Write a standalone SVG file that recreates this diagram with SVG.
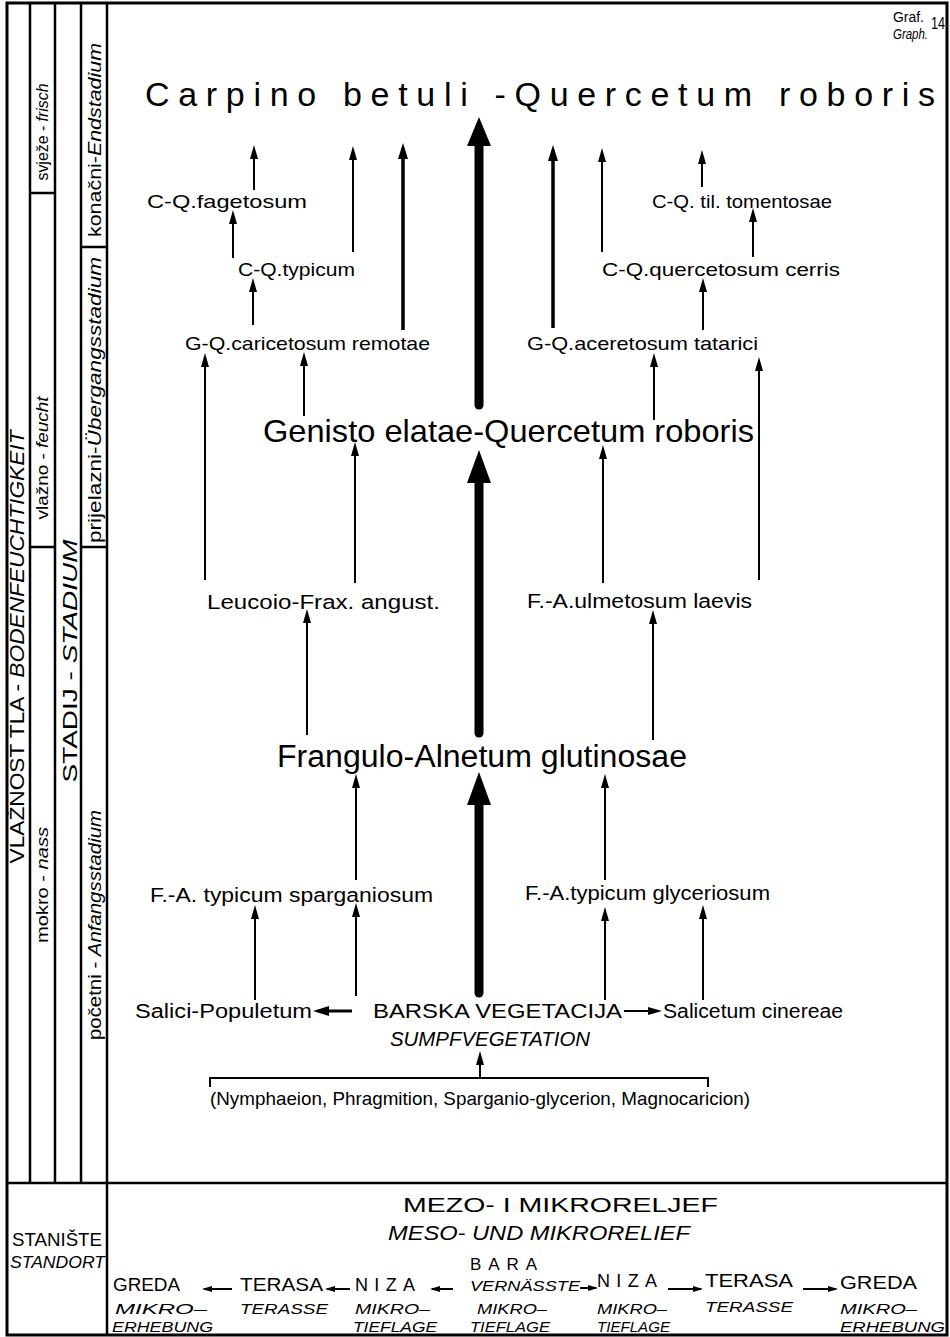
<svg xmlns="http://www.w3.org/2000/svg" width="950" height="1337" viewBox="0 0 950 1337">
<style>
text{font-family:"Liberation Sans","DejaVu Sans",sans-serif;fill:#000}
.i{font-style:italic}
.n{font-size:19px}
.big{font-size:32px}
.side{font-size:20px}
.bt{font-size:18px}
.bi{font-size:15px;font-style:italic}
.frame{fill:none;stroke:#000;stroke-width:3}
.rule{stroke:#000;stroke-width:2.5;fill:none}
.c{stroke:#000;stroke-width:2;fill:none}
.cm{stroke:#000;stroke-width:3.5;fill:none}
.ct{stroke:#000;stroke-width:9;fill:none;stroke-linecap:round}
</style>
<defs>
<marker id="ah" markerUnits="userSpaceOnUse" viewBox="0 0 14 8" refX="10" refY="4" markerWidth="14" markerHeight="8" orient="auto"><path d="M0,0 L14,4 L0,8 z"/></marker>
<marker id="ahm" markerUnits="userSpaceOnUse" viewBox="0 0 16 10" refX="11" refY="5" markerWidth="16" markerHeight="10" orient="auto"><path d="M0,0 L16,5 L0,10 z"/></marker>
<marker id="ahs" markerUnits="userSpaceOnUse" viewBox="0 0 10 6" refX="8" refY="3" markerWidth="10" markerHeight="6" orient="auto"><path d="M0,0 L10,3 L0,6 z"/></marker>
</defs>
<rect width="950" height="1337" fill="#fff"/>

<g id="frame">
<rect class="frame" x="7" y="3" width="940" height="1332"/>
<line class="rule" x1="7" y1="1183" x2="947" y2="1183"/>
<line class="rule" x1="30" y1="3" x2="30" y2="1183"/>
<line class="rule" x1="55" y1="3" x2="55" y2="1183"/>
<line class="rule" x1="81" y1="3" x2="81" y2="1183"/>
<line class="rule" x1="107" y1="3" x2="107" y2="1335"/>
<line class="rule" x1="30" y1="193" x2="55" y2="193"/>
<line class="rule" x1="30" y1="547" x2="55" y2="547"/>
<line class="rule" x1="81" y1="247" x2="107" y2="247"/>
<line class="rule" x1="81" y1="547" x2="107" y2="547"/>
</g>

<g id="side-labels">
<text class="side" transform="translate(24,647) rotate(-90)" text-anchor="middle" textLength="433" lengthAdjust="spacingAndGlyphs">VLAŽNOST TLA - <tspan class="i">BODENFEUCHTIGKEIT</tspan></text>
<text style="font-size:17px" transform="translate(48,132) rotate(-90)" text-anchor="middle" textLength="97" lengthAdjust="spacingAndGlyphs">svježe - <tspan class="i">frisch</tspan></text>
<text style="font-size:17px" transform="translate(48,458) rotate(-90)" text-anchor="middle" textLength="123" lengthAdjust="spacingAndGlyphs">vlažno - <tspan class="i">feucht</tspan></text>
<text style="font-size:17px" transform="translate(48,885) rotate(-90)" text-anchor="middle" textLength="116" lengthAdjust="spacingAndGlyphs">mokro - <tspan class="i">nass</tspan></text>
<text style="font-size:21px" transform="translate(77,661) rotate(-90)" text-anchor="middle" textLength="243" lengthAdjust="spacingAndGlyphs">STADIJ - <tspan class="i">STADIUM</tspan></text>
<text style="font-size:19px" transform="translate(101,140) rotate(-90)" text-anchor="middle" textLength="194" lengthAdjust="spacingAndGlyphs">konačni-<tspan class="i">Endstadium</tspan></text>
<text style="font-size:19px" transform="translate(101,400) rotate(-90)" text-anchor="middle" textLength="286" lengthAdjust="spacingAndGlyphs">prijelazni-<tspan class="i">Übergangsstadium</tspan></text>
<text style="font-size:19px" transform="translate(101,925) rotate(-90)" text-anchor="middle" textLength="230" lengthAdjust="spacingAndGlyphs">početni - <tspan class="i">Anfangsstadium</tspan></text>
</g>

<g id="graph-no">
<text x="893" y="22" style="font-size:14px" textLength="31" lengthAdjust="spacingAndGlyphs">Graf.</text>
<text x="893" y="39" class="i" style="font-size:14px" textLength="35" lengthAdjust="spacingAndGlyphs">Graph.</text>
<text x="931" y="29" style="font-size:16px" textLength="14" lengthAdjust="spacingAndGlyphs">14</text>
</g>

<g id="connectors">
<path class="ct" d="M479,405 V140"/><polygon points="479,117 467,146 491,146"/>
<path class="ct" d="M479,733 V475"/><polygon points="479,450 467,483 491,483"/>
<path class="ct" d="M479,993 V795"/><polygon points="479,772 467,805 491,805"/>
<line class="c" x1="254" y1="190" x2="254" y2="149" marker-end="url(#ah)"/>
<line class="c" x1="233" y1="258" x2="233" y2="214" marker-end="url(#ah)"/>
<line class="c" x1="353" y1="252" x2="353" y2="150" marker-end="url(#ah)"/>
<line class="cm" x1="403" y1="330" x2="403" y2="148" marker-end="url(#ahm)"/>
<line class="c" x1="253" y1="325" x2="253" y2="282" marker-end="url(#ah)"/>
<line class="cm" x1="553" y1="328" x2="553" y2="150" marker-end="url(#ahm)"/>
<line class="c" x1="602" y1="252" x2="602" y2="152" marker-end="url(#ah)"/>
<line class="c" x1="702" y1="187" x2="702" y2="154" marker-end="url(#ah)"/>
<line class="c" x1="753" y1="257" x2="753" y2="212" marker-end="url(#ah)"/>
<line class="c" x1="703" y1="330" x2="703" y2="282" marker-end="url(#ah)"/>
<line class="c" x1="205" y1="580" x2="205" y2="357" marker-end="url(#ah)"/>
<line class="c" x1="304" y1="416" x2="304" y2="356" marker-end="url(#ah)"/>
<line class="c" x1="355" y1="583" x2="355" y2="446" marker-end="url(#ah)"/>
<line class="c" x1="654" y1="420" x2="654" y2="357" marker-end="url(#ah)"/>
<line class="c" x1="759" y1="580" x2="759" y2="361" marker-end="url(#ah)"/>
<line class="c" x1="603" y1="583" x2="603" y2="449" marker-end="url(#ah)"/>
<line class="c" x1="307" y1="735" x2="307" y2="613" marker-end="url(#ah)"/>
<line class="c" x1="653" y1="740" x2="653" y2="614" marker-end="url(#ah)"/>
<line class="c" x1="356" y1="880" x2="356" y2="778" marker-end="url(#ah)"/>
<line class="c" x1="605" y1="880" x2="605" y2="778" marker-end="url(#ah)"/>
<line class="c" x1="255" y1="1000" x2="255" y2="909" marker-end="url(#ah)"/>
<line class="c" x1="356" y1="996" x2="356" y2="907" marker-end="url(#ah)"/>
<line class="c" x1="605" y1="1000" x2="605" y2="911" marker-end="url(#ah)"/>
<line class="c" x1="703" y1="1000" x2="703" y2="909" marker-end="url(#ah)"/>
<line class="cm" style="stroke-width:3" x1="352" y1="1011" x2="318" y2="1011" marker-end="url(#ahm)"/>
<line class="c" x1="624" y1="1011" x2="658" y2="1011" marker-end="url(#ah)"/>
<line class="c" x1="480" y1="1078" x2="480" y2="1055" marker-end="url(#ah)"/>
<path class="c" d="M210,1087 V1078 H708 V1087"/>
<line class="c" x1="232" y1="1289" x2="204" y2="1289" marker-end="url(#ahs)"/>
<line class="c" x1="350" y1="1289" x2="327" y2="1289" marker-end="url(#ahs)"/>
<line class="c" x1="453" y1="1289" x2="432" y2="1289" marker-end="url(#ahs)"/>
<line class="c" x1="580" y1="1288" x2="596" y2="1288" marker-end="url(#ahs)"/>
<line class="c" x1="668" y1="1289" x2="701" y2="1289" marker-end="url(#ahs)"/>
<line class="c" x1="803" y1="1289" x2="836" y2="1289" marker-end="url(#ahs)"/>
</g>

<g id="n-carpino"><text class="big" style="font-size:34px" x="145" y="106" textLength="790" lengthAdjust="spacing">Carpino betuli -Quercetum roboris</text></g>
<g id="n-cq-fagetosum"><text class="n" x="147" y="208" textLength="160" lengthAdjust="spacingAndGlyphs">C-Q.fagetosum</text></g>
<g id="n-cq-typicum"><text class="n" x="238" y="276" textLength="117" lengthAdjust="spacingAndGlyphs">C-Q.typicum</text></g>
<g id="n-gq-caricetosum"><text class="n" x="185" y="350" textLength="245" lengthAdjust="spacingAndGlyphs">G-Q.caricetosum remotae</text></g>
<g id="n-cq-til"><text class="n" x="652" y="208" textLength="180" lengthAdjust="spacingAndGlyphs">C-Q. til. tomentosae</text></g>
<g id="n-cq-quercetosum"><text class="n" x="602" y="276" textLength="238" lengthAdjust="spacingAndGlyphs">C-Q.quercetosum cerris</text></g>
<g id="n-gq-aceretosum"><text class="n" x="527" y="350" textLength="231" lengthAdjust="spacingAndGlyphs">G-Q.aceretosum tatarici</text></g>
<g id="n-genisto"><text class="big" x="263" y="442" textLength="491" lengthAdjust="spacingAndGlyphs">Genisto elatae-Quercetum roboris</text></g>
<g id="n-leucoio"><text class="n" style="font-size:20px" x="207" y="609" textLength="233" lengthAdjust="spacingAndGlyphs">Leucoio-Frax. angust.</text></g>
<g id="n-fa-ulmetosum"><text class="n" style="font-size:20px" x="527" y="608" textLength="225" lengthAdjust="spacingAndGlyphs">F.-A.ulmetosum laevis</text></g>
<g id="n-frangulo"><text class="big" style="font-size:31px" x="277" y="767" textLength="410" lengthAdjust="spacingAndGlyphs">Frangulo-Alnetum glutinosae</text></g>
<g id="n-fa-sparganiosum"><text class="n" style="font-size:20px" x="150" y="902" textLength="283" lengthAdjust="spacingAndGlyphs">F.-A. typicum sparganiosum</text></g>
<g id="n-fa-glyceriosum"><text class="n" style="font-size:20px" x="525" y="900" textLength="245" lengthAdjust="spacingAndGlyphs">F.-A.typicum glyceriosum</text></g>
<g id="n-salici"><text class="n" style="font-size:20px" x="135" y="1018" textLength="177" lengthAdjust="spacingAndGlyphs">Salici-Populetum</text></g>
<g id="n-barska">
<text style="font-size:21px" x="373" y="1018" textLength="249" lengthAdjust="spacingAndGlyphs">BARSKA VEGETACIJA</text>
<text class="i" style="font-size:20px" x="390" y="1046" textLength="200" lengthAdjust="spacingAndGlyphs">SUMPFVEGETATION</text>
</g>
<g id="n-salicetum"><text class="n" style="font-size:20px" x="663" y="1018" textLength="180" lengthAdjust="spacingAndGlyphs">Salicetum cinereae</text></g>
<g id="n-nymphaeion"><text class="n" x="210" y="1105" textLength="540" lengthAdjust="spacingAndGlyphs">(Nymphaeion, Phragmition, Sparganio-glycerion, Magnocaricion)</text></g>

<g id="n-staniste">
<text class="bt" style="font-size:19px" x="12" y="1246" textLength="90" lengthAdjust="spacingAndGlyphs">STANIŠTE</text>
<text class="i" style="font-size:17px" x="10" y="1268" textLength="95" lengthAdjust="spacingAndGlyphs">STANDORT</text>
</g>
<g id="n-relief">
<text style="font-size:20px" x="403" y="1212" textLength="315" lengthAdjust="spacingAndGlyphs">MEZO- I MIKRORELJEF</text>
<text class="i" style="font-size:20px" x="388" y="1240" textLength="302" lengthAdjust="spacingAndGlyphs">MESO- UND MIKRORELIEF</text>
</g>
<g id="n-greda-l">
<text class="bt" x="113" y="1291" textLength="67" lengthAdjust="spacingAndGlyphs">GREDA</text>
<text class="bi" x="115" y="1314" textLength="92" lengthAdjust="spacingAndGlyphs">MIKRO–</text>
<text class="bi" x="112" y="1332" textLength="101" lengthAdjust="spacingAndGlyphs">ERHEBUNG</text>
</g>
<g id="n-terasa-l">
<text class="bt" x="240" y="1291" textLength="83" lengthAdjust="spacingAndGlyphs">TERASA</text>
<text class="bi" x="240" y="1314" textLength="88" lengthAdjust="spacingAndGlyphs">TERASSE</text>
</g>
<g id="n-niza-l">
<text class="bt" x="355" y="1291" textLength="60" lengthAdjust="spacing">NIZA</text>
<text class="bi" x="355" y="1314" textLength="75" lengthAdjust="spacingAndGlyphs">MIKRO–</text>
<text class="bi" x="353" y="1332" textLength="84" lengthAdjust="spacingAndGlyphs">TIEFLAGE</text>
</g>
<g id="n-bara">
<text class="bt" style="font-size:17px" x="470" y="1270" textLength="67" lengthAdjust="spacing">BARA</text>
<text class="bi" x="470" y="1291" textLength="110" lengthAdjust="spacingAndGlyphs">VERNÄSSTE</text>
<text class="bi" x="477" y="1314" textLength="70" lengthAdjust="spacingAndGlyphs">MIKRO–</text>
<text class="bi" x="470" y="1332" textLength="80" lengthAdjust="spacingAndGlyphs">TIEFLAGE</text>
</g>
<g id="n-niza-r">
<text class="bt" x="597" y="1287" textLength="60" lengthAdjust="spacing">NIZA</text>
<text class="bi" x="597" y="1314" textLength="70" lengthAdjust="spacingAndGlyphs">MIKRO–</text>
<text class="bi" x="597" y="1332" textLength="73" lengthAdjust="spacingAndGlyphs">TIEFLAGE</text>
</g>
<g id="n-terasa-r">
<text class="bt" x="705" y="1287" textLength="88" lengthAdjust="spacingAndGlyphs">TERASA</text>
<text class="bi" x="705" y="1312" textLength="88" lengthAdjust="spacingAndGlyphs">TERASSE</text>
</g>
<g id="n-greda-r">
<text class="bt" x="840" y="1289" textLength="77" lengthAdjust="spacingAndGlyphs">GREDA</text>
<text class="bi" x="840" y="1314" textLength="77" lengthAdjust="spacingAndGlyphs">MIKRO–</text>
<text class="bi" x="840" y="1332" textLength="105" lengthAdjust="spacingAndGlyphs">ERHEBUNG</text>
</g>
</svg>
